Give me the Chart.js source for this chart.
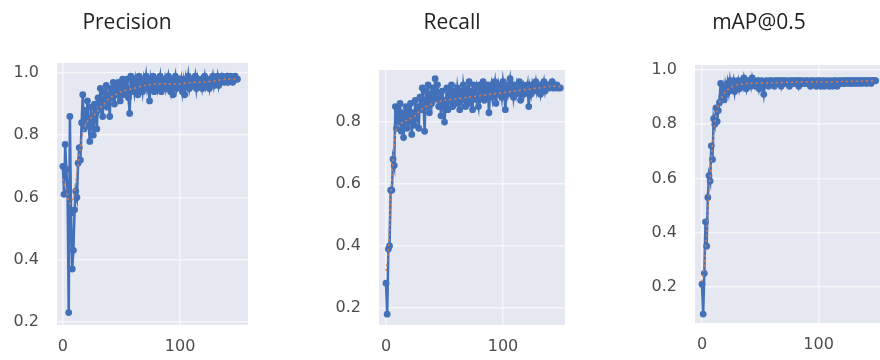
<!DOCTYPE html>
<html>
<head>
<meta charset="utf-8">
<script src="https://cdn.jsdelivr.net/npm/chart.js@4.4.0/dist/chart.umd.min.js"></script>
<style>
  html, body { margin: 0; padding: 0; background: #fff; overflow: hidden; width: 880px; height: 360px; }
  canvas { position: absolute; top: 0; }
</style>
</head>
<body>
<canvas id="cPrecision" width="254" height="360" style="left:0px"></canvas>
<canvas id="cRecall" width="304" height="360" style="left:300px"></canvas>
<canvas id="cMap" width="278" height="360" style="left:620px"></canvas>

<script>
// Giá trị theo từng epoch (0..149)
const precision = [
  0.70, 0.61, 0.77, 0.69, 0.62, 0.23, 0.86, 0.55, 0.37, 0.43,
  0.56, 0.62, 0.60, 0.71, 0.76, 0.72, 0.84, 0.93, 0.82, 0.88,
  0.85, 0.91, 0.83, 0.78, 0.89, 0.84, 0.80, 0.90, 0.87, 0.82,
  0.92, 0.88, 0.95, 0.90, 0.86, 0.94, 0.91, 0.96, 0.89, 0.93,
  0.86, 0.95, 0.92, 0.97, 0.90, 0.94, 0.96, 0.93, 0.97, 0.91,
  0.95, 0.98, 0.93, 0.96, 0.94, 0.98, 0.92, 0.87, 0.99, 0.95,
  0.97, 0.94, 0.98, 0.96, 0.93, 0.99, 0.95, 0.97, 0.94, 0.98,
  0.96, 0.99, 0.95, 0.97, 0.91, 0.98, 0.96, 0.99, 0.94, 0.97,
  0.98, 0.95, 0.97, 0.99, 0.94, 0.97, 0.96, 0.98, 0.95, 0.97,
  0.99, 0.96, 0.94, 0.98, 0.93, 0.97, 0.99, 0.95, 0.97, 0.98,
  0.96, 0.98, 0.94, 0.97, 0.93, 0.98, 0.96, 0.99, 0.95, 0.97,
  0.98, 0.96, 0.97, 0.99, 0.95, 0.98, 0.96, 0.97, 0.98, 0.95,
  0.97, 0.99, 0.96, 0.98, 0.97, 0.95, 0.98, 0.97, 0.99, 0.96,
  0.98, 0.97, 0.99, 0.96, 0.98, 0.97, 0.99, 0.98, 0.97, 0.98,
  0.99, 0.97, 0.98, 0.99, 0.98, 0.97, 0.98, 0.99, 0.98, 0.98
];
const recall = [
  0.28, 0.18, 0.39, 0.40, 0.58, 0.58, 0.68, 0.66, 0.85, 0.78,
  0.84, 0.80, 0.86, 0.77, 0.83, 0.75, 0.82, 0.85, 0.78, 0.84,
  0.80, 0.86, 0.76, 0.83, 0.79, 0.87, 0.81, 0.85, 0.78, 0.88,
  0.84, 0.91, 0.86, 0.77, 0.90, 0.85, 0.92, 0.83, 0.89, 0.86,
  0.91, 0.87, 0.94, 0.88, 0.92, 0.85, 0.89, 0.82, 0.90, 0.87,
  0.80, 0.86, 0.91, 0.84, 0.89, 0.87, 0.92, 0.85, 0.88, 0.90,
  0.86, 0.91, 0.88, 0.84, 0.90, 0.87, 0.92, 0.89, 0.85, 0.91,
  0.88, 0.93, 0.86, 0.90, 0.84, 0.92, 0.89, 0.91, 0.87, 0.85,
  0.92, 0.88, 0.90, 0.93, 0.87, 0.91, 0.89, 0.92, 0.83, 0.90,
  0.92, 0.88, 0.91, 0.93, 0.86, 0.90, 0.92, 0.89, 0.91, 0.88,
  0.93, 0.90, 0.84, 0.91, 0.89, 0.92, 0.94, 0.90, 0.92, 0.88,
  0.91, 0.89, 0.92, 0.90, 0.93, 0.87, 0.91, 0.92, 0.89, 0.91,
  0.90, 0.92, 0.85, 0.91, 0.89, 0.92, 0.90, 0.91, 0.93, 0.90,
  0.92, 0.91, 0.89, 0.92, 0.91, 0.93, 0.90, 0.92, 0.91, 0.92,
  0.91, 0.92, 0.93, 0.91, 0.92, 0.91, 0.92, 0.91, 0.91, 0.91
];
const mapScore = [
  0.21, 0.10, 0.25, 0.44, 0.35, 0.53, 0.61, 0.59, 0.72, 0.67,
  0.82, 0.80, 0.86, 0.81, 0.85, 0.88, 0.95, 0.90, 0.93, 0.89,
  0.94, 0.91, 0.95, 0.92, 0.96, 0.93, 0.94, 0.96, 0.92, 0.95,
  0.94, 0.96, 0.93, 0.95, 0.96, 0.94, 0.97, 0.95, 0.93, 0.96,
  0.95, 0.96, 0.94, 0.97, 0.95, 0.96, 0.94, 0.95, 0.96, 0.93,
  0.95, 0.96, 0.94, 0.91, 0.95, 0.96, 0.95, 0.94, 0.96, 0.95,
  0.96, 0.95, 0.94, 0.96, 0.95, 0.96, 0.95, 0.96, 0.94, 0.96,
  0.95, 0.96, 0.95, 0.96, 0.95, 0.94, 0.96, 0.95, 0.96, 0.95,
  0.96, 0.95, 0.96, 0.94, 0.96, 0.95, 0.96, 0.95, 0.95, 0.96,
  0.95, 0.96, 0.95, 0.94, 0.96, 0.95, 0.96, 0.95, 0.94, 0.96,
  0.95, 0.96, 0.94, 0.95, 0.96, 0.94, 0.95, 0.96, 0.95, 0.94,
  0.96, 0.95, 0.94, 0.96, 0.95, 0.96, 0.94, 0.95, 0.96, 0.95,
  0.96, 0.95, 0.96, 0.95, 0.96, 0.96, 0.95, 0.96, 0.95, 0.96,
  0.96, 0.95, 0.96, 0.96, 0.95, 0.96, 0.96, 0.95, 0.96, 0.96,
  0.96, 0.95, 0.96, 0.96, 0.96, 0.95, 0.96, 0.96, 0.96, 0.96
];

// Đường làm mượt (chấm cam), đọc tại một số epoch
const precisionSmoothEpochs = [0, 3, 6, 9, 12, 15, 18, 22, 26, 30, 35, 40, 45, 50, 60, 70, 80, 90, 100, 110, 120, 130, 140, 149];
const precisionSmooth = [0.66, 0.62, 0.58, 0.60, 0.68, 0.76, 0.82, 0.85, 0.86, 0.88, 0.90, 0.92, 0.93, 0.94, 0.95, 0.96, 0.965, 0.965, 0.965, 0.97, 0.97, 0.975, 0.98, 0.98];
const recallSmoothEpochs = [0, 2, 4, 6, 8, 10, 15, 20, 25, 30, 40, 50, 60, 70, 80, 90, 100, 110, 120, 130, 140, 149];
const recallSmooth = [0.32, 0.38, 0.55, 0.68, 0.76, 0.79, 0.80, 0.81, 0.82, 0.84, 0.86, 0.87, 0.875, 0.88, 0.885, 0.89, 0.895, 0.90, 0.905, 0.91, 0.915, 0.915];
const mapSmoothEpochs = [0, 2, 4, 6, 8, 10, 12, 15, 20, 25, 30, 40, 60, 80, 100, 120, 149];
const mapSmooth = [0.22, 0.28, 0.40, 0.55, 0.67, 0.77, 0.83, 0.88, 0.92, 0.935, 0.945, 0.95, 0.952, 0.955, 0.955, 0.957, 0.96];

// Nhãn trục
const xTicks = [0, 100];
const yTicksFull = [0.2, 0.4, 0.6, 0.8, 1.0];
const yTicksRecall = [0.2, 0.4, 0.6, 0.8];

const BLUE = '#4270b9';
const ORANGE = '#e07b4b';
const TICK_FONT = { family: 'DejaVu Sans', size: 16 };
const GRID = { color: 'rgba(255,255,255,0.6)', lineWidth: 1.5, drawTicks: false };

// Tô nền vùng vẽ kiểu seaborn
const plotBg = {
  id: 'plotBg',
  beforeDraw(chart) {
    const { ctx, chartArea: a } = chart;
    ctx.save();
    ctx.fillStyle = '#e6e8f1';
    ctx.fillRect(a.left, a.top, a.right - a.left, a.bottom - a.top);
    ctx.restore();
  }
};

function makeChart(id, p) {
  const raw = p.values.map((v, i) => ({ x: i, y: v }));
  const smooth = p.smoothEpochs.map((e, i) => ({ x: e, y: p.smooth[i] }));
  return new Chart(document.getElementById(id), {
    type: 'line',
    data: {
      datasets: [
        {
          data: smooth,
          borderColor: ORANGE,
          borderWidth: 1.5,
          borderDash: [2, 3],
          pointRadius: 0,
          tension: 0.3
        },
        {
          data: raw,
          borderColor: BLUE,
          borderWidth: 2.5,
          pointRadius: 3.4,
          pointBackgroundColor: BLUE,
          pointBorderWidth: 0,
          tension: 0
        }
      ]
    },
    options: {
      responsive: false,
      animation: false,
      layout: { padding: 0 },
      plugins: {
        legend: { display: false },
        tooltip: { enabled: false },
        title: {
          display: true,
          text: p.title,
          color: '#222',
          font: { family: 'Open Sans', size: 21, weight: 'normal' },
          padding: { top: 10, bottom: p.titleGap }
        }
      },
      scales: {
        x: {
          type: 'linear',
          min: p.xMin,
          max: p.xMax,
          border: { display: false },
          grid: GRID,
          ticks: { color: '#4d4d4d', font: TICK_FONT, padding: 12, callback: v => v },
          afterBuildTicks: s => { s.ticks = xTicks.map(v => ({ value: v })); },
          afterFit: s => { s.height = p.xAxisH; }
        },
        y: {
          type: 'linear',
          min: p.yMin,
          max: p.yMax,
          border: { display: false },
          grid: GRID,
          ticks: { color: '#4d4d4d', font: TICK_FONT, padding: 18, callback: v => v.toFixed(1) },
          afterBuildTicks: s => { s.ticks = p.yTicks.map(v => ({ value: v })); },
          afterFit: s => { s.width = p.yAxisW; }
        },
        yRight: {
          type: 'linear',
          position: 'right',
          border: { display: false },
          grid: { display: false },
          ticks: { display: false },
          afterFit: s => { s.width = p.rightW; }
        }
      }
    },
    plugins: [plotBg]
  });
}

makeChart('cPrecision', {
  title: 'Precision', values: precision,
  smoothEpochs: precisionSmoothEpochs, smooth: precisionSmooth,
  xMin: -5, xMax: 158, yMin: 0.19, yMax: 1.032, yTicks: yTicksFull,
  yAxisW: 57, rightW: 6, xAxisH: 35, titleGap: 27.8
});
makeChart('cRecall', {
  title: 'Recall', values: recall,
  smoothEpochs: recallSmoothEpochs, smooth: recallSmooth,
  xMin: -6, xMax: 153, yMin: 0.145, yMax: 0.968, yTicks: yTicksRecall,
  yAxisW: 79, rightW: 39, xAxisH: 35, titleGap: 34.8
});
makeChart('cMap', {
  title: 'mAP@0.5', values: mapScore,
  smoothEpochs: mapSmoothEpochs, smooth: mapSmooth,
  xMin: -6, xMax: 157, yMin: 0.067, yMax: 1.018, yTicks: yTicksFull,
  yAxisW: 75, rightW: 13, xAxisH: 37, titleGap: 29.8
});
</script>
</body>
</html>
